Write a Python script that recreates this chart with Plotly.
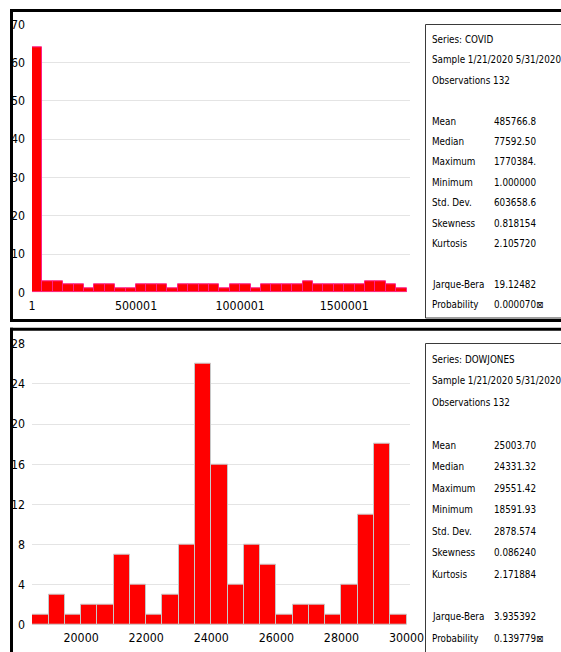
import plotly.graph_objects as go

W, H = 561, 652

# ---------------- data ----------------
covid_counts = [64, 3, 3, 2, 2, 1, 2, 2, 1, 1, 2, 2, 2, 1, 2, 2, 2, 2, 1, 2, 2, 1,
                2, 2, 2, 2, 3, 2, 2, 2, 2, 2, 3, 3, 2, 1]
covid_bin_start = 1
covid_bin_width = 50000
covid_xticks = [1, 500001, 1000001, 1500001]
covid_yticks = [0, 10, 20, 30, 40, 50, 60, 70]

dow_counts = [1, 3, 1, 2, 2, 7, 4, 1, 3, 8, 26, 16, 4, 8, 6, 1, 2, 2, 1, 4, 11, 18, 1]
dow_bin_start = 18500
dow_bin_width = 500
dow_xticks = [20000, 22000, 24000, 26000, 28000, 30000]
dow_yticks = [0, 4, 8, 12, 16, 20, 24, 28]

stat_names = ["Mean", "Median", "Maximum", "Minimum", "Std. Dev.", "Skewness", "Kurtosis"]
test_names = ["Jarque-Bera", "Probability"]

covid_header = ["Series: COVID", "Sample 1/21/2020 5/31/2020", "Observations 132"]
covid_stat_values = ["485766.8", "77592.50", "1770384.", "1.000000", "603658.6", "0.818154", "2.105720"]
covid_test_values = ["19.12482", "0.000070\u22a0"]

dow_header = ["Series: DOWJONES", "Sample 1/21/2020 5/31/2020", "Observations 132"]
dow_stat_values = ["25003.70", "24331.32", "29551.42", "18591.93", "2878.574", "0.086240", "2.171884"]
dow_test_values = ["3.935392", "0.139779\u22a0"]

# ---------------- helpers ----------------
FONT = "DejaVu Sans Condensed, Liberation Sans Narrow, sans-serif"


def px(x):
    return x / W


def py(y):
    return 1 - y / H


def centers(start, width, counts):
    return [start + (i + 0.5) * width for i in range(len(counts))]


fig = go.Figure()

fig.add_trace(go.Bar(
    x=centers(covid_bin_start, covid_bin_width, covid_counts), y=covid_counts,
    width=covid_bin_width, marker=dict(color="#FF0000", line=dict(color="#FF1E8C", width=1)),
    xaxis="x", yaxis="y", showlegend=False, hoverinfo="x+y"))

fig.add_trace(go.Bar(
    x=centers(dow_bin_start, dow_bin_width, dow_counts), y=dow_counts,
    width=dow_bin_width, marker=dict(color="#FF0000", line=dict(color="#C8C8C8", width=1)),
    xaxis="x2", yaxis="y2", showlegend=False, hoverinfo="x+y"))

xdom = [px(32), px(410)]
axis_font = dict(family=FONT, size=12.3, color="#000000")
common = dict(zeroline=False, showline=False, ticks="", tickfont=axis_font, automargin=False)

fig.update_layout(
    width=W, height=H, margin=dict(l=0, r=0, t=0, b=0, pad=0, autoexpand=False),
    paper_bgcolor="white", plot_bgcolor="white", bargap=0,
    xaxis=dict(domain=xdom, anchor="y", range=[1, 1815859],
               tickvals=covid_xticks, ticktext=[str(v) for v in covid_xticks],
               showgrid=False, ticklabelstandoff=4, **common),
    yaxis=dict(domain=[py(292.3), py(24.3)], anchor="x", range=[0, 70],
               tickvals=covid_yticks, showgrid=True, gridcolor="#E4E4E4", gridwidth=1,
               ticklabelstandoff=6, **common),
    xaxis2=dict(domain=xdom, anchor="y2", range=[18490, 30107],
                tickvals=dow_xticks, ticktext=[str(v) for v in dow_xticks],
                showgrid=False, ticklabelstandoff=4, **common),
    yaxis2=dict(domain=[py(625), py(343.7)], anchor="x2", range=[0, 28],
                tickvals=dow_yticks, showgrid=True, gridcolor="#E4E4E4", gridwidth=1,
                ticklabelstandoff=6, **common),
)

shapes = []
# panel borders (thick black)
for (x0, y0, x1, y1) in [
    (10, 10.5, W, 10.5), (11.5, 9, 11.5, 322), (10, 320.5, W, 320.5),
    (10, 329.3, W, 329.3), (11.5, 327.8, 11.5, H),
]:
    shapes.append(dict(type="line", xref="paper", yref="paper",
                       x0=px(x0), y0=py(y0), x1=px(x1), y1=py(y1),
                       line=dict(color="black", width=3), layer="above"))
# stats boxes (open where they run off the picture)
for (x0, y0, x1, y1) in [
    (425.5, 24.5, W, 24.5), (425.5, 24.5, 425.5, 318), (425.5, 318, W, 318),
    (425.5, 343.5, W, 343.5), (425.5, 343.5, 425.5, H),
]:
    shapes.append(dict(type="line", xref="paper", yref="paper",
                       x0=px(x0), y0=py(y0), x1=px(x1), y1=py(y1),
                       line=dict(color="#3A3A3A", width=1), layer="above"))
fig.update_layout(shapes=shapes)

annotations = []
stat_font = dict(family=FONT, size=9.8, color="#000000")


def add_stats(header, values, tests, y0, step):
    rows = []
    for i, h in enumerate(header):
        rows.append((i, h, None))
    for i, (n, v) in enumerate(zip(stat_names, values)):
        rows.append((4 + i, n, v))
    for i, (n, v) in enumerate(zip(test_names, tests)):
        rows.append((12 + i, n, v))
    for r, label, val in rows:
        y = y0 + r * step
        annotations.append(dict(xref="paper", yref="paper", x=px(431), y=py(y),
                                xanchor="left", yanchor="middle", text=label,
                                showarrow=False, font=stat_font, borderpad=0))
        if val is not None:
            annotations.append(dict(xref="paper", yref="paper", x=px(493), y=py(y),
                                    xanchor="left", yanchor="middle", text=val,
                                    showarrow=False, font=stat_font, borderpad=0))


add_stats(covid_header, covid_stat_values, covid_test_values, 39.5, 20.4)
add_stats(dow_header, dow_stat_values, dow_test_values, 359.5, 21.45)
fig.update_layout(annotations=annotations)

post = ("document.documentElement.style.margin='0';document.body.style.margin='0';"
        "document.body.style.overflow='hidden';document.documentElement.style.overflow='hidden';"
        "var d=document.getElementById('{plot_id}');"
        "d.style.position='fixed';d.style.left='0px';d.style.top='0px';")

fig.write_html("out.html", post_script=post, config={"displayModeBar": False})
